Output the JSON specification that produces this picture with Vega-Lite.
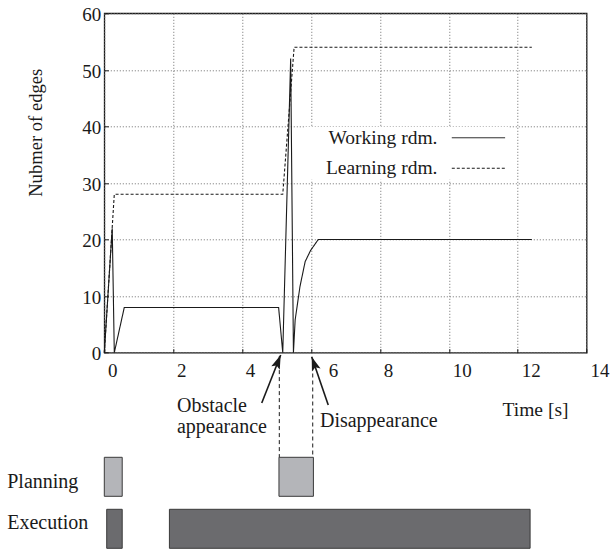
{
  "$schema": "https://vega.github.io/schema/vega-lite/v6.json",
  "autosize": "none",
  "padding": {"left": 104.3, "top": 13.3, "right": 23.4, "bottom": 197.3},
  "width": 482.3,
  "height": 339.4,
  "background": "white",
  "config": {
    "view": {"stroke": "#1a1a1a", "strokeWidth": 1.3},
    "font": "Liberation Serif",
    "axis": {
      "labelFont": "Liberation Serif",
      "titleFont": "Liberation Serif",
      "labelColor": "#1a1a1a",
      "titleColor": "#1a1a1a",
      "titleFontWeight": "normal",
      "domain": false,
      "ticks": false,
      "tickSize": 0,
      "gridColor": "#6e6e6e",
      "gridDash": [1, 2],
      "gridWidth": 1,
      "gridOpacity": 1,
      "labelFlush": false,
      "labelOverlap": false,
      "labelBound": false
    },
    "text": {"font": "Liberation Serif"}
  },
  "datasets": {
    "curves": [
      {"t": 0, "edges": 0, "series": "Working rdm."},
      {"t": 0.23, "edges": 22, "series": "Working rdm."},
      {"t": 0.29, "edges": 0, "series": "Working rdm."},
      {"t": 0.58, "edges": 8, "series": "Working rdm."},
      {"t": 5.06, "edges": 8, "series": "Working rdm."},
      {"t": 5.18, "edges": 0, "series": "Working rdm."},
      {"t": 5.41, "edges": 52, "series": "Working rdm."},
      {"t": 5.49, "edges": 0, "series": "Working rdm."},
      {"t": 5.54, "edges": 5.8, "series": "Working rdm."},
      {"t": 5.68, "edges": 11.7, "series": "Working rdm."},
      {"t": 5.83, "edges": 16.1, "series": "Working rdm."},
      {"t": 5.99, "edges": 18.1, "series": "Working rdm."},
      {"t": 6.21, "edges": 20, "series": "Working rdm."},
      {"t": 12.41, "edges": 20, "series": "Working rdm."},
      {"t": 0, "edges": 0, "series": "Learning rdm."},
      {"t": 0.29, "edges": 28, "series": "Learning rdm."},
      {"t": 5.18, "edges": 28, "series": "Learning rdm."},
      {"t": 5.51, "edges": 54, "series": "Learning rdm."},
      {"t": 12.41, "edges": 54, "series": "Learning rdm."}
    ],
    "tasks": [
      {"task": "Planning", "start": 0.0, "end": 0.52},
      {"task": "Planning", "start": 5.07, "end": 6.07},
      {"task": "Execution", "start": 0.07, "end": 0.52},
      {"task": "Execution", "start": 1.89, "end": 12.36}
    ],
    "events": [
      {"event": "Obstacle appearance", "t": 5.08, "line_top": -0.6, "line_bottom": -18.5, "tip_t": 5.12, "tip_y": -0.4, "tail_t": 4.57, "tail_y": -8.9, "angle": 21.6, "note": "Obstacle\nappearance", "note_t": 2.11, "note_y": -10.43},
      {"event": "Disappearance", "t": 6.05, "line_top": -1.2, "line_bottom": -18.5, "tip_t": 6.02, "tip_y": -0.7, "tail_t": 6.5, "tail_y": -9.25, "angle": 341, "note": "Disappearance", "note_t": 6.26, "note_y": -13.19}
    ]
  },
  "layer": [
    {
      "layer": [
        {
          "data": {"name": "curves"},
          "mark": {"type": "line", "strokeWidth": 1.1, "color": "#1a1a1a"},
          "encoding": {
            "x": {
              "field": "t", "type": "quantitative",
              "scale": {"domain": [0, 14], "nice": false, "zero": false},
              "axis": {
                "values": [0, 2, 4, 6, 8, 10, 12, 14],
                "grid": true,
                "ticks": true,
                "tickSize": -4,
                "tickColor": "#1a1a1a",
                "tickWidth": 1,
                "labelFontSize": 19,
                "labelPadding": 13,
                "labelOffset": {"condition": [{"test": "datum.value == 6", "value": 22}, {"test": "datum.value >= 10", "value": 13}], "value": 8},
                "title": "Time [s]",
                "titleFontSize": 19.5,
                "titleX": 430.7,
                "titleY": 63.3,
                "titleAlign": "center",
                "titleBaseline": "alphabetic"
              }
            },
            "y": {
              "field": "edges", "type": "quantitative",
              "scale": {"domain": [0, 60], "nice": false},
              "axis": {
                "values": [0, 10, 20, 30, 40, 50, 60],
                "grid": true,
                "ticks": true,
                "tickSize": -4,
                "tickColor": "#1a1a1a",
                "tickWidth": 1,
                "labelFontSize": 19,
                "labelPadding": 7.6,
                "labelBaseline": "middle",
                "labelOffset": 1.2,
                "title": "Nubmer of edges",
                "titleFontSize": 18.6,
                "titleAngle": -90,
                "titleX": -69,
                "titleY": 119,
                "titleAlign": "center",
                "titleBaseline": "middle"
              }
            },
            "strokeDash": {
              "field": "series", "type": "nominal",
              "scale": {"domain": ["Working rdm.", "Learning rdm."], "range": [[1, 0], [3, 2]]},
              "legend": {
                "orient": "none",
                "legendX": 200.7,
                "legendY": 113.5,
                "title": null,
                "symbolType": "M-8,0H8",
                "symbolSize": 44.4,
                "symbolStrokeColor": "#1a1a1a",
                "symbolFillColor": "transparent",
                "symbolStrokeWidth": 1,
                "symbolOffset": 162.5,
                "labelAlign": "right",
                "labelBaseline": "middle",
                "labelOffset": -50.75,
                "labelFontSize": 19.5,
                "labelFont": "Liberation Serif",
                "labelColor": "#1a1a1a",
                "labelLimit": 0,
                "rowPadding": 9.5,
                "fillColor": "white",
                "padding": 1.2
              }
            }
          }
        },
        {
          "data": {"name": "events"},
          "mark": {"type": "rule", "strokeDash": [4, 3], "strokeWidth": 1, "color": "#1a1a1a"},
          "encoding": {
            "x": {"field": "t", "type": "quantitative"},
            "y": {"field": "line_top", "type": "quantitative"},
            "y2": {"field": "line_bottom"}
          }
        },
        {
          "data": {"name": "events"},
          "mark": {"type": "rule", "strokeWidth": 1.6, "color": "#1a1a1a"},
          "encoding": {
            "x": {"field": "tail_t", "type": "quantitative"},
            "y": {"field": "tail_y", "type": "quantitative"},
            "x2": {"field": "tip_t"},
            "y2": {"field": "tip_y"}
          }
        },
        {
          "data": {"name": "events"},
          "mark": {"type": "point", "shape": "M0,0L0.65,2L0,1.6L-0.65,2Z", "size": 196, "filled": true, "color": "#1a1a1a", "opacity": 1, "strokeWidth": 0},
          "encoding": {
            "x": {"field": "tip_t", "type": "quantitative"},
            "y": {"field": "tip_y", "type": "quantitative"},
            "angle": {"field": "angle", "type": "quantitative", "scale": null}
          }
        },
        {
          "data": {"name": "events"},
          "mark": {"type": "text", "align": "left", "baseline": "alphabetic", "fontSize": 20, "lineBreak": "\n", "lineHeight": 21.6, "color": "#1a1a1a"},
          "encoding": {
            "x": {"field": "note_t", "type": "quantitative"},
            "y": {"field": "note_y", "type": "quantitative"},
            "text": {"field": "note"}
          }
        }
      ]
    },
    {
      "data": {"name": "tasks"},
      "mark": {"type": "bar", "stroke": "#3a3a3a", "strokeWidth": 1},
      "encoding": {
        "x": {"field": "start", "type": "quantitative", "scale": {"domain": [0, 14]}},
        "x2": {"field": "end"},
        "y": {
          "field": "task", "type": "nominal",
          "scale": {"domain": ["Planning", "Execution"], "range": [444, 535], "paddingInner": 0.25, "paddingOuter": 0},
          "axis": {
            "orient": "left",
            "domain": false,
            "ticks": false,
            "grid": false,
            "labelAlign": "left",
            "labelBaseline": "middle",
            "labelPadding": 97.6,
            "labelFontSize": 20,
            "labelOffset": {"condition": {"test": "datum.value === 'Planning'", "value": 5}, "value": -5.5},
            "title": null
          }
        },
        "fill": {
          "field": "task", "type": "nominal",
          "scale": {"domain": ["Planning", "Execution"], "range": ["#b4b5b9", "#6b6b6e"]},
          "legend": null
        }
      }
    }
  ],
  "resolve": {"scale": {"y": "independent"}}
}
